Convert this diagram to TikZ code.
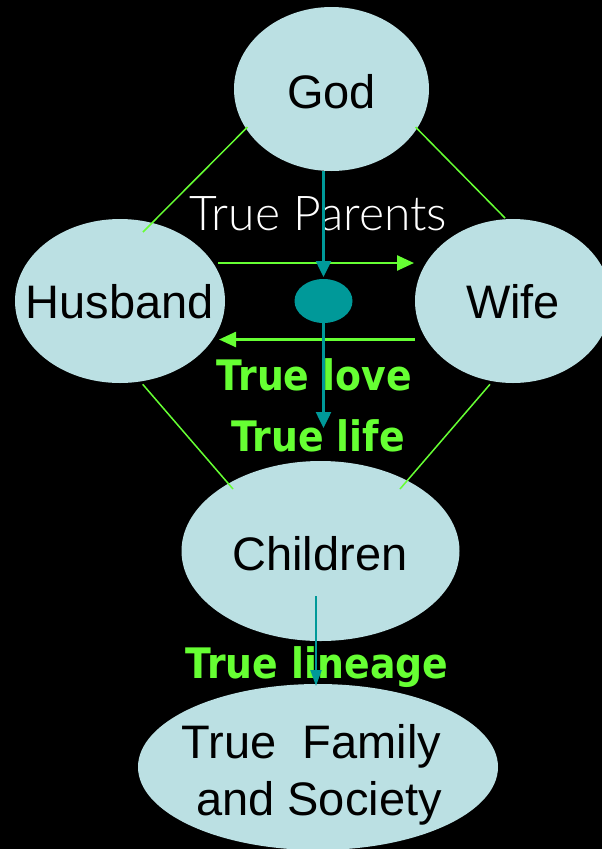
\documentclass[tikz,border=0pt]{standalone}
\usepackage{fontspec}
\usepackage{graphicx}
\setmainfont{Liberation Sans}
\newfontfamily\greenfont{DejaVu Sans}
\newfontfamily\thinfont{Lato Light}
\usetikzlibrary{shapes.geometric,arrows.meta}
\definecolor{blobfill}{HTML}{BBE0E3}
\definecolor{lgreen}{HTML}{66FF33}
\definecolor{tealc}{HTML}{009999}
\tikzset{
  blob/.style={ellipse, fill=blobfill, draw=none, inner sep=0pt},
  dotshape/.style={ellipse, fill=tealc, draw=none, inner sep=0pt, minimum width=58pt, minimum height=44pt},
  lbl/.style={anchor=base, inner sep=0pt, font=\fontsize{47}{55}\selectfont, text=black},
  gtxt/.style={anchor=base, inner sep=0pt, font=\greenfont\bfseries\fontsize{42}{50}\selectfont, text=lgreen},
  ptxt/.style={anchor=base, inner sep=0pt, font=\thinfont\fontsize{48}{56}\selectfont, text=white},
  link/.style={draw=lgreen, line width=1.5pt},
  garrow/.style={draw=lgreen, line width=2.5pt, -{Triangle[length=17pt,width=15pt]}},
  tarrow/.style={draw=tealc, line width=2.5pt, -{Triangle[length=16pt,width=15pt]}},
  tarrowthin/.style={draw=tealc, line width=2.2pt, -{Triangle[length=16pt,width=11pt]}},
}
\begin{document}
\begin{tikzpicture}[x=1pt,y=-1pt]
\useasboundingbox (0,0) rectangle (602,849);
\fill[black] (0,0) rectangle (602,849);
% ellipses
\node[blob, minimum width=195pt, minimum height=164pt] (god) at (331.5,89) {};
\node[blob, minimum width=210pt, minimum height=164pt] (husband) at (120,301) {};
\node[blob, minimum width=196pt, minimum height=164pt] (wife) at (513,301) {};
\node[blob, minimum width=278pt, minimum height=180pt] (children) at (320.5,551) {};
\node[blob, minimum width=360pt, minimum height=166pt] (family) at (318,767) {};
\node[dotshape] (dot) at (323.5,301) {};
% texts
\node[lbl] (godt) at (331.5,108) {God};
\node[lbl] (husbandt) at (120,318.3) {Husband};
\node[lbl] (wifet) at (513,318.3) {Wife};
\node[lbl] (childrent) at (320,570) {Children};
\node[lbl] (fam1) at (311.5,758) {True\ \ Family};
\node[lbl] (fam2) at (319,815) {and Society};
\node[ptxt] (parents) at (318.3,230) {True Parents};
\node[gtxt] (love) at (314.3,390.7) {\scalebox{0.9}[1]{True love}};
\node[gtxt] (life) at (318,451.7) {\scalebox{0.9}[1]{True life}};
\node[gtxt] (lineage) at (317,678.3) {\scalebox{0.9}[1]{True lineage}};
% thin green links
\draw[link] ([shift={(-84,38)}]god.center) -- ([shift={(23,-69)}]husband.center);
\draw[link] ([shift={(84,38)}]god.center) -- ([shift={(-8,-83)}]wife.center);
\draw[link] ([shift={(22.7,83.3)}]husband.center) -- ([shift={(-87.5,-62)}]children.center);
\draw[link] ([shift={(-23,83.3)}]wife.center) -- ([shift={(79.5,-62)}]children.center);
% green arrows
\draw[garrow] ([shift={(98,-38)}]husband.center) -- ([shift={(-99,-38)}]wife.center);
\draw[garrow] ([shift={(-98,38.5)}]wife.center) -- ([shift={(99,38.5)}]husband.center);
% teal arrows
\draw[tarrow] ([shift={(-8,82)}]god.center) -- ([shift={(0,-24)}]dot.center);
\draw[tarrow] (dot.south) -- ([shift={(3,-123)}]children.center);
\draw[tarrowthin] ([shift={(-4.5,45)}]children.center) -- ([shift={(-2,-81)}]family.center);
\end{tikzpicture}
\end{document}
